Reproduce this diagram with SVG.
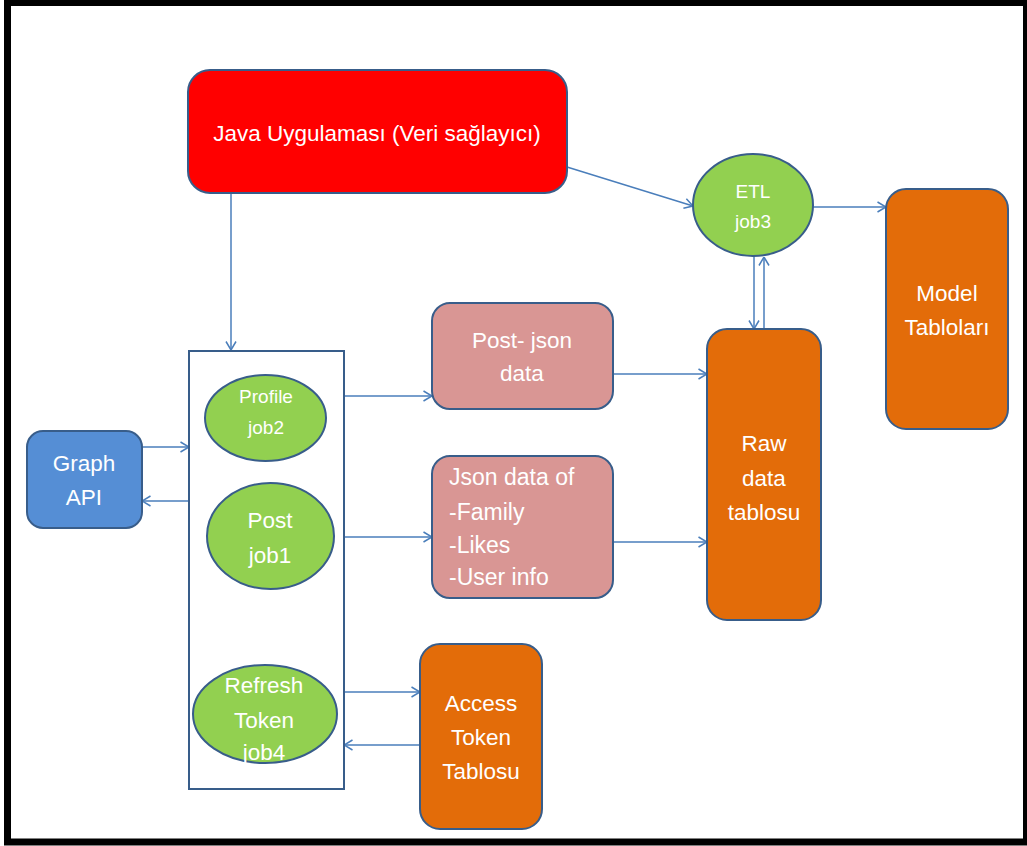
<svg xmlns="http://www.w3.org/2000/svg" width="1027" height="846" viewBox="0 0 1027 846">
<defs>
<style>
.lbl{font-family:"Liberation Sans",Arial,sans-serif;fill:#ffffff;text-anchor:middle;font-size:22.5px}
.sm{font-size:19px}
.lt{text-anchor:start;font-size:23px}
.box{stroke:#385D8A;stroke-width:2}
.con{stroke:#4A7EBB;stroke-width:1.5;fill:none;marker-end:url(#arr)}
</style>
<marker id="arr" viewBox="0 0 10 12" refX="9.5" refY="6" markerWidth="10" markerHeight="12" markerUnits="userSpaceOnUse" orient="auto">
<path d="M1,1 L9.5,6 L1,11" fill="none" stroke="#4A7EBB" stroke-width="1.5"/>
</marker>
</defs>
<rect x="0" y="0" width="1027" height="846" fill="#ffffff"/>
<rect x="7.5" y="2.5" width="1019" height="839.5" fill="none" stroke="#000000" stroke-width="7"/>

<g id="connectors">
<line class="con" x1="567" y1="167" x2="693" y2="206"/>
<line class="con" x1="813" y1="207" x2="886" y2="207"/>
<line class="con" x1="754" y1="256" x2="754" y2="329"/>
<line class="con" x1="764" y1="329" x2="764" y2="257"/>
<line class="con" x1="231" y1="193" x2="231" y2="350"/>
<line class="con" x1="344" y1="396" x2="432" y2="396"/>
<line class="con" x1="613" y1="374" x2="707" y2="374"/>
<line class="con" x1="344" y1="537" x2="432" y2="537"/>
<line class="con" x1="613" y1="542" x2="707" y2="542"/>
<line class="con" x1="142" y1="447" x2="189" y2="447"/>
<line class="con" x1="189" y1="501" x2="142" y2="501"/>
<line class="con" x1="344" y1="692" x2="420" y2="692"/>
<line class="con" x1="420" y1="745" x2="344" y2="745"/>
</g>

<g id="java">
<rect class="box" x="188" y="70" width="379" height="123" rx="22" fill="#FF0000"/>
<text class="lbl" x="377" y="141">Java Uygulaması (Veri sağlayıcı)</text>
</g>

<g id="etl">
<ellipse class="box" cx="753" cy="205" rx="60" ry="51" fill="#92D050"/>
<text class="lbl sm" x="753" y="198">ETL</text>
<text class="lbl sm" x="753" y="228">job3</text>
</g>

<g id="model">
<rect class="box" x="886" y="189" width="122" height="240" rx="20" fill="#E36C09"/>
<text class="lbl" x="947" y="301">Model</text>
<text class="lbl" x="947" y="335">Tabloları</text>
</g>

<g id="raw">
<rect class="box" x="707" y="329" width="114" height="291" rx="20" fill="#E36C09"/>
<text class="lbl" x="764" y="451">Raw</text>
<text class="lbl" x="764" y="486">data</text>
<text class="lbl" x="764" y="520">tablosu</text>
</g>

<g id="postjson">
<rect class="box" x="432" y="303" width="181" height="106" rx="18" fill="#D99694"/>
<text class="lbl" x="522" y="348">Post- json</text>
<text class="lbl" x="522" y="381">data</text>
</g>

<g id="jsondata">
<rect class="box" x="432" y="456" width="181" height="142" rx="18" fill="#D99694"/>
<text class="lbl lt" x="449" y="485">Json data of</text>
<text class="lbl lt" x="449" y="520">-Family</text>
<text class="lbl lt" x="449" y="553">-Likes</text>
<text class="lbl lt" x="449" y="585">-User info</text>
</g>

<g id="jobs-container">
<rect x="189" y="351" width="155" height="438" fill="none" stroke="#385D8A" stroke-width="2"/>
</g>

<g id="job2">
<ellipse class="box" cx="265.5" cy="418" rx="60.5" ry="43" fill="#92D050"/>
<text class="lbl sm" x="266" y="403">Profile</text>
<text class="lbl sm" x="266" y="434">job2</text>
</g>

<g id="job1">
<ellipse class="box" cx="270.5" cy="536" rx="63.5" ry="53" fill="#92D050"/>
<text class="lbl" x="270" y="528">Post</text>
<text class="lbl" x="270" y="563">job1</text>
</g>

<g id="job4">
<ellipse class="box" cx="265" cy="714" rx="72" ry="49" fill="#92D050"/>
<text class="lbl" x="264" y="693">Refresh</text>
<text class="lbl" x="264" y="728">Token</text>
<text class="lbl" x="264" y="760">job4</text>
</g>

<g id="graphapi">
<rect class="box" x="27" y="431" width="115" height="97" rx="16" fill="#558ED5"/>
<text class="lbl" x="84" y="471">Graph</text>
<text class="lbl" x="84" y="505">API</text>
</g>

<g id="accesstoken">
<rect class="box" x="420" y="644" width="122" height="185" rx="20" fill="#E36C09"/>
<text class="lbl" x="481" y="711">Access</text>
<text class="lbl" x="481" y="745">Token</text>
<text class="lbl" x="481" y="779">Tablosu</text>
</g>
</svg>
